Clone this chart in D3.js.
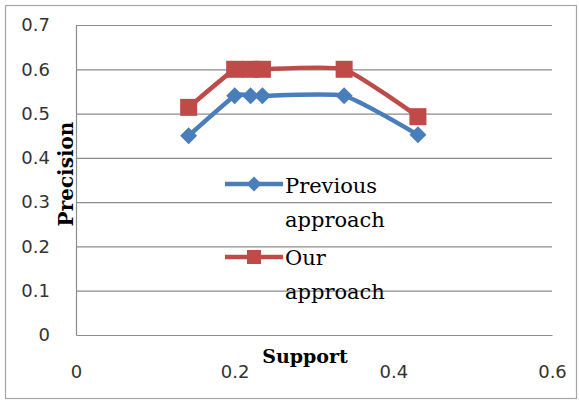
<!DOCTYPE html>
<html>
<head>
<meta charset="utf-8">
<script src="https://cdn.jsdelivr.net/npm/d3@7"></script>
<style>
  html, body { margin: 0; padding: 0; background: #fff; }
  svg { display: block; }
  .tick text { font-family: "DejaVu Sans", sans-serif; font-size: 18px; fill: #333; }
</style>
</head>
<body>
<svg id="chart" width="579" height="401"></svg>
<script>
// Support (x) and precision (y) for the two approaches
const support = [0.142, 0.2, 0.22, 0.235, 0.338, 0.431];
const previousApproach = [0.45, 0.54, 0.54, 0.54, 0.54, 0.452];
const ourApproach = [0.514, 0.6, 0.6, 0.6, 0.6, 0.493];

const xTicks = [0, 0.2, 0.4, 0.6];
const xTickLabels = ["0", "0.2", "0.4", "0.6"];
const yTicks = [0, 0.1, 0.2, 0.3, 0.4, 0.5, 0.6, 0.7];
const yTickLabels = ["0", "0.1", "0.2", "0.3", "0.4", "0.5", "0.6", "0.7"];

const seriesNames = ["Previous approach", "Our approach"];

const svg = d3.select("#chart");
const plotLeft = 76, plotRight = 552, plotTop = 25, plotBottom = 335;

const x = d3.scaleLinear().domain([0, 0.6]).range([plotLeft, plotRight]);
const y = d3.scaleLinear().domain([0, 0.7]).range([plotBottom, plotTop]);

// Outer frame
svg.append("rect")
  .attr("x", 5.5).attr("y", 5.5)
  .attr("width", 571).attr("height", 393)
  .attr("fill", "#fff").attr("stroke", "#a6a6a6").attr("stroke-width", 1.2);

// Horizontal gridlines
const grid = svg.append("g")
  .attr("transform", `translate(${plotLeft},0)`)
  .call(d3.axisLeft(y).tickValues(yTicks.slice(1)).tickSize(-(plotRight - plotLeft)).tickFormat(""));
grid.select(".domain").remove();
grid.selectAll(".tick line").attr("stroke", "#8c8c8c").attr("stroke-width", 1.2);

// Y axis labels
const yAxis = svg.append("g")
  .attr("transform", `translate(${plotLeft},0)`)
  .call(d3.axisLeft(y).tickValues(yTicks).tickSize(0).tickPadding(26)
    .tickFormat((d, i) => yTickLabels[i]));
yAxis.select(".domain").attr("stroke", "#8c8c8c").attr("stroke-width", 1.2);

// X axis labels
const xAxis = svg.append("g")
  .attr("transform", `translate(0,${plotBottom})`)
  .call(d3.axisBottom(x).tickValues(xTicks).tickSize(0).tickPadding(30)
    .tickFormat((d, i) => xTickLabels[i]));
xAxis.select(".domain").attr("stroke", "#8c8c8c").attr("stroke-width", 1.2);

// Axis titles
svg.append("text")
  .attr("x", 305).attr("y", 363)
  .attr("text-anchor", "middle")
  .attr("font-family", "DejaVu Serif, serif").attr("font-weight", "bold")
  .attr("font-size", 19).attr("fill", "#000")
  .text("Support");

svg.append("text")
  .attr("transform", "translate(73,174) rotate(-90)")
  .attr("text-anchor", "middle")
  .attr("font-family", "DejaVu Serif, serif").attr("font-weight", "bold")
  .attr("font-size", 20).attr("fill", "#000")
  .text("Precision");

// Series
const colors = ["#4a7ebb", "#be4b48"];
const seriesValues = [previousApproach, ourApproach];
const line = d3.line().x(d => x(d[0])).y(d => y(d[1])).curve(d3.curveCardinal.tension(0.5));

const diamond = (s) => `M0,${-s}L${s},0L0,${s}L${-s},0Z`;
const square = (s) => `M${-s},${-s}H${s}V${s}H${-s}Z`;
const markers = [diamond, square];
const markerSize = [8.5, 8.5];

seriesValues.forEach((vals, k) => {
  const pts = support.map((s, i) => [s, vals[i]]);
  svg.append("path")
    .attr("d", line(pts))
    .attr("fill", "none")
    .attr("stroke", colors[k])
    .attr("stroke-width", 4.5)
    .attr("stroke-linejoin", "round");
  svg.append("g").selectAll("path")
    .data(pts).join("path")
    .attr("transform", d => `translate(${x(d[0])},${y(d[1])})`)
    .attr("d", markers[k](markerSize[k]))
    .attr("fill", colors[k]);
});

// Legend
const legendFont = "DejaVu Serif, serif";
const legendRows = [
  { cy: 184, lines: ["Previous", "approach"], base: 193 },
  { cy: 257, lines: ["Our", "approach"], base: 265 }
];
const legendMarkerSize = [7.5, 7];
legendRows.forEach((row, k) => {
  svg.append("line")
    .attr("x1", 225).attr("x2", 283)
    .attr("y1", row.cy).attr("y2", row.cy)
    .attr("stroke", colors[k]).attr("stroke-width", 4.5);
  svg.append("path")
    .attr("transform", `translate(254,${row.cy})`)
    .attr("d", markers[k](legendMarkerSize[k]))
    .attr("fill", colors[k]);
  row.lines.forEach((t, j) => {
    svg.append("text")
      .attr("x", 285).attr("y", row.base + j * 34)
      .attr("font-family", legendFont).attr("font-size", 21)
      .attr("fill", "#000")
      .text(t);
  });
});
</script>
</body>
</html>
